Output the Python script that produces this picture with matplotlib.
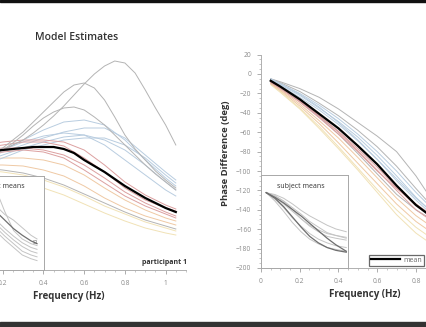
import numpy as np
import matplotlib
matplotlib.use('Agg')
import matplotlib.pyplot as plt
from matplotlib.ticker import MultipleLocator, FuncFormatter

plt.rcParams['font.family'] = ['Open Sans', 'DejaVu Sans']

# ---- left panel: model estimates (gain, arbitrary units) ----
freq_l = [0.1, 0.2, 0.3, 0.4, 0.5, 0.6, 0.7, 0.8, 0.9, 1.0, 1.05]
freq_l_fine = [0.1, 0.15, 0.2, 0.25, 0.3, 0.35, 0.4, 0.45, 0.5, 0.55,
               0.6, 0.65, 0.7, 0.75, 0.8, 0.85, 0.9, 0.95, 1.0, 1.05]
left_peaks = [
    [1.10, 1.15, 1.20, 1.25, 1.30, 1.37, 1.45, 1.54, 1.64, 1.75,
     1.86, 1.96, 2.04, 2.09, 2.07, 1.97, 1.80, 1.62, 1.45, 1.25],
    [1.10, 1.16, 1.22, 1.30, 1.38, 1.48, 1.58, 1.68, 1.78, 1.85,
     1.87, 1.82, 1.70, 1.53, 1.35, 1.21, 1.10, 0.99, 0.90, 0.82],
    [1.10, 1.15, 1.20, 1.27, 1.35, 1.44, 1.52, 1.58, 1.62, 1.63,
     1.60, 1.53, 1.45, 1.35, 1.25, 1.15, 1.05, 0.96, 0.88, 0.80],
]
left_mean = [1.18, 1.19, 1.20, 1.21, 1.22, 1.23, 1.23, 1.23, 1.21, 1.17,
             1.10, 1.04, 0.98, 0.91, 0.84, 0.78, 0.72, 0.67, 0.62, 0.58]
left_gray = [
    [1.02, 1.00, 0.97, 0.92, 0.85, 0.76, 0.67, 0.58, 0.50, 0.44, 0.41],
]
left_blue = [
    [1.12, 1.20, 1.30, 1.40, 1.48, 1.50, 1.45, 1.30, 1.10, 0.92, 0.84],
    [1.10, 1.18, 1.25, 1.32, 1.38, 1.42, 1.42, 1.32, 1.15, 0.98, 0.90],
    [1.08, 1.15, 1.22, 1.28, 1.33, 1.35, 1.30, 1.20, 1.05, 0.88, 0.80],
    [1.10, 1.20, 1.28, 1.34, 1.37, 1.35, 1.25, 1.10, 0.95, 0.80, 0.74],
    [1.05, 1.12, 1.20, 1.25, 1.30, 1.32, 1.32, 1.25, 1.12, 0.95, 0.87],
]
left_red = [
    [1.22, 1.25, 1.28, 1.28, 1.24, 1.12, 0.98, 0.82, 0.70, 0.62, 0.59],
    [1.20, 1.22, 1.22, 1.20, 1.15, 1.05, 0.92, 0.78, 0.67, 0.58, 0.54],
    [1.15, 1.18, 1.20, 1.18, 1.12, 1.00, 0.87, 0.74, 0.64, 0.56, 0.52],
    [1.25, 1.28, 1.30, 1.30, 1.28, 1.20, 1.05, 0.88, 0.75, 0.65, 0.61],
]
left_orange = [
    [1.10, 1.12, 1.12, 1.10, 1.05, 0.95, 0.82, 0.70, 0.60, 0.52, 0.49],
    [1.05, 1.05, 1.04, 1.00, 0.94, 0.84, 0.72, 0.62, 0.54, 0.48, 0.45],
]
left_yellow = [
    [1.00, 0.98, 0.95, 0.90, 0.83, 0.74, 0.64, 0.56, 0.48, 0.42, 0.39],
    [0.95, 0.92, 0.88, 0.82, 0.75, 0.66, 0.57, 0.49, 0.42, 0.37, 0.35],
]

# left inset (subject means), normalised box coords
inset_u_l = [0.05, 0.15, 0.25, 0.35, 0.45, 0.55, 0.65, 0.75, 0.85, 0.92]
inset_l_dark = [0.88, 0.83, 0.77, 0.70, 0.62, 0.53, 0.44, 0.37, 0.31, 0.28]
inset_l_light = [
    [0.85, 0.79, 0.71, 0.62, 0.53, 0.44, 0.36, 0.29, 0.24, 0.22],
    [0.85, 0.78, 0.69, 0.58, 0.49, 0.40, 0.32, 0.25, 0.20, 0.18],
    [0.85, 0.77, 0.66, 0.55, 0.45, 0.36, 0.28, 0.20, 0.16, 0.14],
    [0.85, 0.75, 0.63, 0.52, 0.41, 0.32, 0.24, 0.16, 0.12, 0.10],
    [0.95, 0.94, 0.92, 0.90, 0.85, 0.62, 0.42, 0.33, 0.28, 0.26],
    [0.90, 0.87, 0.82, 0.75, 0.68, 0.59, 0.53, 0.45, 0.37, 0.33],
]

# ---- right panel: phase difference (deg) ----
freq_r = [0.05, 0.1, 0.2, 0.3, 0.4, 0.5, 0.6, 0.7, 0.8, 0.9, 1.0]
right_gray = [
    [-5, -8, -15, -24, -36, -50, -64, -80, -105, -135, -160],
    [-5, -9, -18, -30, -43, -58, -75, -95, -118, -140, -158],
    [-8, -14, -28, -44, -62, -82, -103, -124, -140, -152, -160],
]
right_blue = [
    [-5, -10, -20, -32, -46, -62, -80, -100, -122, -142, -156],
    [-6, -11, -22, -35, -49, -65, -84, -105, -127, -146, -158],
    [-5, -10, -21, -34, -50, -68, -88, -110, -130, -148, -160],
    [-6, -12, -24, -37, -52, -69, -88, -108, -128, -145, -157],
]
right_red = [
    [-8, -14, -28, -43, -59, -77, -96, -117, -136, -150, -160],
    [-7, -14, -27, -43, -60, -79, -99, -120, -140, -154, -163],
    [-9, -15, -29, -45, -62, -80, -100, -118, -134, -148, -158],
]
right_orange = [
    [-9, -16, -31, -48, -66, -86, -107, -128, -146, -160, -170],
    [-10, -17, -33, -51, -71, -92, -113, -134, -152, -166, -176],
]
right_yellow = [
    [-10, -18, -35, -54, -75, -97, -119, -140, -158, -172, -182],
    [-11, -19, -36, -56, -77, -99, -122, -145, -164, -178, -188],
]
right_mean = [-7, -13, -26, -41, -56, -74, -93, -115, -135, -150, -160]

inset_u_r = [0.06, 0.16, 0.26, 0.36, 0.46, 0.56, 0.66, 0.76, 0.86, 0.98]
inset_r_dark = [
    [0.81, 0.76, 0.70, 0.63, 0.56, 0.48, 0.40, 0.32, 0.25, 0.18],
    [0.81, 0.75, 0.66, 0.55, 0.44, 0.34, 0.27, 0.22, 0.19, 0.17],
]
inset_r_light = [
    [0.81, 0.79, 0.75, 0.69, 0.62, 0.56, 0.51, 0.46, 0.42, 0.39],
    [0.81, 0.77, 0.72, 0.65, 0.58, 0.50, 0.44, 0.38, 0.35, 0.32],
    [0.81, 0.76, 0.69, 0.61, 0.53, 0.46, 0.41, 0.37, 0.35, 0.33],
    [0.81, 0.74, 0.65, 0.54, 0.45, 0.37, 0.31, 0.27, 0.24, 0.22],
    [0.81, 0.72, 0.61, 0.49, 0.39, 0.31, 0.26, 0.22, 0.20, 0.18],
    [0.81, 0.78, 0.72, 0.63, 0.53, 0.45, 0.39, 0.34, 0.32, 0.30],
]

GRAY = '#b4b4b4'
BLUE = '#b9cde0'
RED = '#dca0a0'
ORANGE = '#efc9a4'
YELLOW = '#f1e2b6'
TICK = '#8a8a8a'
TXT = '#333333'

W, H = 426, 327
fig = plt.figure(figsize=(W / 100, H / 100), dpi=100)


def box(x0, y0, x1, y1):
    # pixel box (top-left origin) -> figure fraction rect
    return [x0 / W, (H - y1) / H, (x1 - x0) / W, (y1 - y0) / H]


def draw_bundle(ax, x, groups, lw=0.7):
    for curves, col in groups:
        for c in curves:
            ax.plot(x, c, color=col, lw=lw, solid_joinstyle='round')


def style_axis(ax):
    for s in ['top', 'right']:
        ax.spines[s].set_visible(False)
    for s in ['left', 'bottom']:
        ax.spines[s].set_color('#b0b0b0')
        ax.spines[s].set_linewidth(0.7)
    ax.tick_params(which='major', length=3, width=0.6, color='#a0a0a0',
                   labelsize=4.8, labelcolor=TICK, pad=4)
    ax.tick_params(which='minor', length=1.5, width=0.5, color='#b0b0b0')


def fmt(v, pos):
    return '%g' % round(v, 2)


def style_inset(ax):
    ax.set_xlim(0, 1)
    ax.set_ylim(0, 1)
    ax.set_xticks([])
    ax.set_yticks([])
    for s in ax.spines.values():
        s.set_color('#a8a8a8')
        s.set_linewidth(0.7)


# left main axes
axl = fig.add_axes(box(-38, 20, 186, 270))
draw_bundle(axl, freq_l, [(left_yellow, YELLOW), (left_orange, ORANGE),
                          (left_gray, GRAY), (left_blue, BLUE),
                          (left_red, RED)])
draw_bundle(axl, freq_l_fine, [(left_peaks, GRAY)])
axl.plot(freq_l_fine, left_mean, color='black', lw=1.6)
axl.set_xlim(0, 1.1)
axl.set_ylim(0, 2.5)
style_axis(axl)
axl.spines['left'].set_visible(False)
axl.set_yticks([])
axl.xaxis.set_major_locator(MultipleLocator(0.2))
axl.xaxis.set_minor_locator(MultipleLocator(0.05))
axl.xaxis.set_major_formatter(FuncFormatter(fmt))
axl.patch.set_alpha(0)

# left inset
axil = fig.add_axes(box(-43, 176, 44, 270))
for c in inset_l_light:
    axil.plot(inset_u_l, c, color='#c4c4c4', lw=0.7)
axil.plot(inset_u_l, inset_l_dark, color='#707070', lw=0.9)
axil.text(0.87, 0.29, 'S1', fontsize=3.5, color='#555555', va='center')
axil.text(0.5, 0.87, 'subject means', fontsize=5, color=TXT, ha='center')
style_inset(axil)

# right main axes
axr = fig.add_axes(box(261, 54.6, 474, 268))
draw_bundle(axr, freq_r, [(right_yellow, YELLOW), (right_orange, ORANGE),
                          (right_gray, GRAY), (right_blue, BLUE),
                          (right_red, RED)])
axr.plot(freq_r, right_mean, color='black', lw=1.6, label='mean')
axr.set_xlim(0, 1.1)
axr.set_ylim(-200, 20)
style_axis(axr)
axr.xaxis.set_major_locator(MultipleLocator(0.2))
axr.xaxis.set_minor_locator(MultipleLocator(0.05))
axr.xaxis.set_major_formatter(FuncFormatter(fmt))
axr.yaxis.set_major_locator(MultipleLocator(20))
axr.yaxis.set_minor_locator(MultipleLocator(5))
axr.patch.set_alpha(0)
leg = axr.legend(loc='lower left', bbox_to_anchor=(369 / W, (H - 266) / H),
                 bbox_transform=fig.transFigure, fontsize=5, frameon=True,
                 fancybox=False, handlelength=4.2, handletextpad=0.4,
                 borderpad=0.3, borderaxespad=0)
leg.get_frame().set_edgecolor('#444444')
leg.get_frame().set_linewidth(0.9)
for t in leg.get_texts():
    t.set_color('#666666')

# right inset
axir = fig.add_axes(box(261, 175, 348, 268))
for c in inset_r_light:
    axir.plot(inset_u_r, c, color='#c4c4c4', lw=0.7)
for c in inset_r_dark:
    axir.plot(inset_u_r, c, color='#6e6e6e', lw=0.9)
axir.text(0.46, 0.86, 'subject means', fontsize=5, color=TXT, ha='center')
style_inset(axir)

# texts
fig.text(35 / W, 1 - 38 / H, 'Model Estimates', fontsize=7.5, color=TXT,
         fontweight='semibold', va='center')
fig.text(187 / W, 1 - 263 / H, 'participant 1', fontsize=5, color=TXT,
         fontweight='bold', ha='right', va='center')
fig.text(69 / W, 1 - 296 / H, 'Frequency (Hz)', fontsize=7, color=TXT,
         fontweight='bold', ha='center', va='center')
fig.text(365 / W, 1 - 295 / H, 'Frequency (Hz)', fontsize=7, color=TXT,
         fontweight='bold', ha='center', va='center')
fig.text(226 / W, 1 - 153 / H, 'Phase Difference (deg)', fontsize=6.8,
         color=TXT, fontweight='bold', ha='center', va='center',
         rotation=90)

# slide borders
fig.add_artist(plt.Rectangle((0, 1 - 2 / H), 1, 2 / H, color='#111111',
                             transform=fig.transFigure))
fig.add_artist(plt.Rectangle((0, 0), 1, 5 / H, color='#333333',
                             transform=fig.transFigure))

fig.savefig('out.png', dpi=100)
